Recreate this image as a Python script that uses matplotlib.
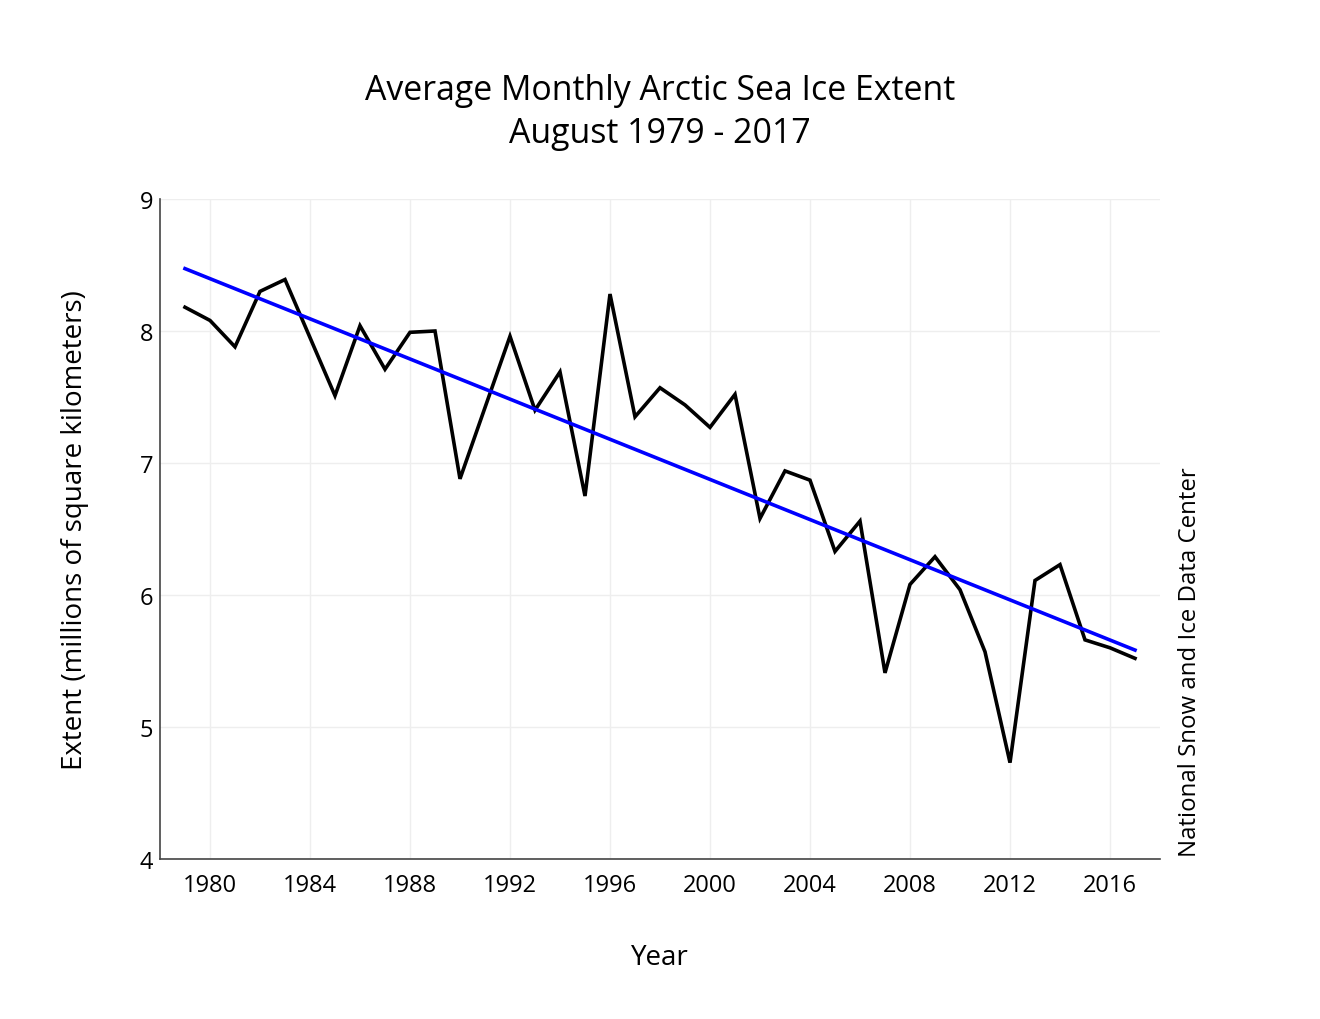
import matplotlib
matplotlib.use("Agg")
import matplotlib.pyplot as plt
import numpy as np

years = list(range(1979, 2018))
extent = [8.18, 8.08, 7.88, 8.30, 8.39, 7.95, 7.51, 8.04, 7.71, 7.99,
          8.00, 6.88, 7.42, 7.96, 7.40, 7.69, 6.75, 8.28, 7.35, 7.57,
          7.44, 7.27, 7.52, 6.58, 6.94, 6.87, 6.33, 6.56, 5.41, 6.08,
          6.29, 6.04, 5.57, 4.73, 6.11, 6.23, 5.66, 5.60, 5.52]
x_ticks = [1980, 1984, 1988, 1992, 1996, 2000, 2004, 2008, 2012, 2016]
y_ticks = [4, 5, 6, 7, 8, 9]

title_lines = ["Average Monthly Arctic Sea Ice Extent", "August 1979 - 2017"]
xlabel = "Year"
ylabel = "Extent (millions of square kilometers)"
credit = "National Snow and Ice Data Center"

plt.rcParams['font.family'] = ['Open Sans', 'DejaVu Sans']

W, H = 1320, 1020
fig = plt.figure(figsize=(W / 100, H / 100), dpi=100)
ax = fig.add_axes([160/W, 1 - 860/H, 1000/W, 660/H])

yr = np.array(years, dtype=float)
ex = np.array(extent)
coef = np.polyfit(yr, ex, 1)
trend = np.polyval(coef, yr)

ax.plot(yr, ex, color='black', lw=2.6, solid_joinstyle='miter', zorder=3)
ax.plot(yr, trend, color='#0000ff', lw=2.6, zorder=4)

ax.set_xlim(1978, 2018)
ax.set_ylim(4, 9)
ax.set_xticks(x_ticks)
ax.set_yticks(y_ticks)
ax.grid(True, color='#eeeeee', lw=1.0, zorder=0)
ax.set_axisbelow(True)
for s in ['top', 'right']:
    ax.spines[s].set_visible(False)
for s in ['left', 'bottom']:
    ax.spines[s].set_color('#444444')
    ax.spines[s].set_linewidth(1.2)
ax.tick_params(axis='both', length=0, labelsize=17, colors='#222222', labelcolor='black')
ax.tick_params(axis='x', pad=10)
ax.tick_params(axis='y', pad=5)

fig.text(660/W, 1 - 958/H, xlabel, ha='center', va='center', fontsize=20)
fig.text(75/W, 1 - 530/H, ylabel, ha='center', va='center', fontsize=20, rotation=90)

fig.text(0.5, 1 - 91/H, title_lines[0], ha='center', va='center', fontsize=24.4)
fig.text(0.5, 1 - 134/H, title_lines[1], ha='center', va='center', fontsize=24.4)
fig.text(1190/W, 1 - 857/H, credit, rotation=90,
         ha='center', va='bottom', fontsize=17.3)

fig.savefig("out.png", dpi=100, facecolor='white')
